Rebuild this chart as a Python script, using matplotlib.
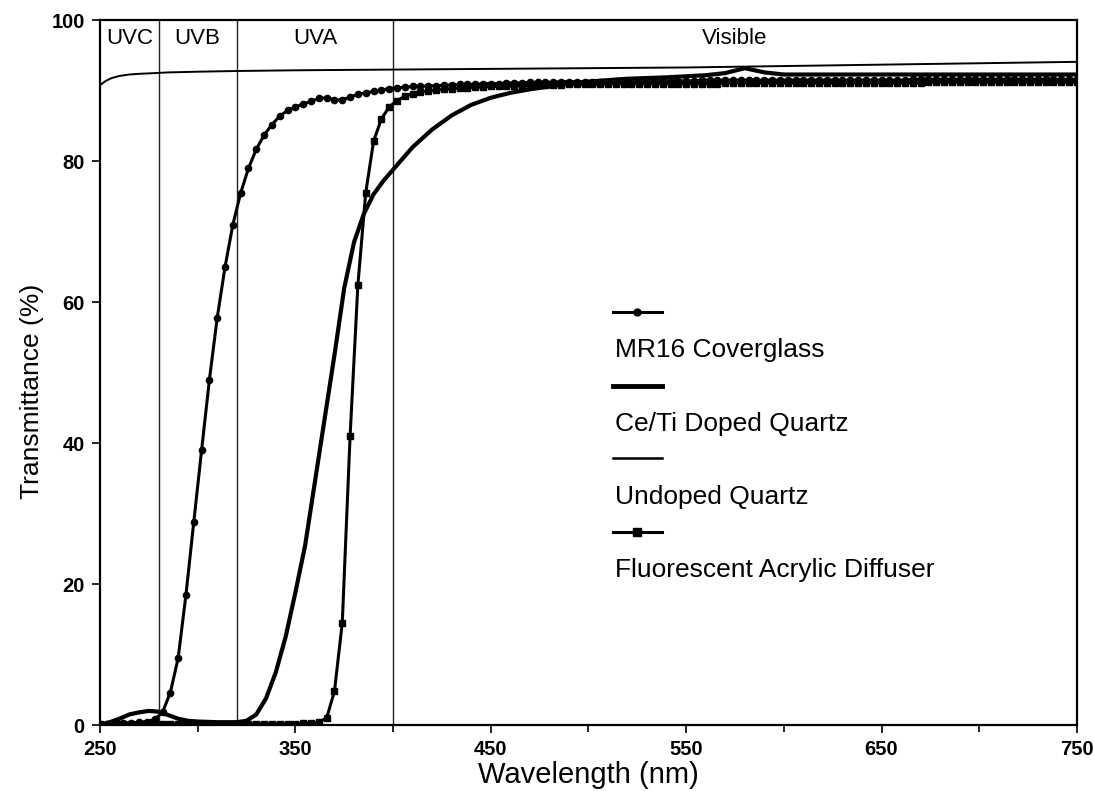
import numpy as np
import matplotlib.pyplot as plt
from matplotlib.lines import Line2D

plt.rcParams['font.family'] = ['Liberation Sans', 'DejaVu Sans']

# wavelength grid of the two marked series (nm)
wl_grid = np.arange(250, 751, 4)

mr16 = [0.2, 0.2, 0.3, 0.3, 0.3, 0.4, 0.5, 0.8,
        1.8, 4.6, 9.5, 18.5, 28.8,
        39.0, 49.0, 57.8, 65.0, 71.0,
        75.5, 79.0, 81.7, 83.7, 85.2,
        86.4, 87.2, 87.7, 88.1, 88.5,
        88.9, 89.0, 88.7, 88.7, 89.1,
        89.5, 89.7, 89.9, 90.1, 90.3,
        90.4, 90.5, 90.6, 90.6, 90.7, 90.7, 90.8, 90.8, 90.9, 90.9, 90.9, 91.0, 91.0,
        91.0, 91.1, 91.1, 91.1, 91.2, 91.2, 91.2, 91.2, 91.3, 91.3, 91.3, 91.3,
        91.3, 91.3, 91.3, 91.4, 91.4, 91.4, 91.4, 91.4, 91.4, 91.4, 91.4, 91.4, 91.4,
        91.4, 91.5, 91.5, 91.5, 91.5, 91.5, 91.5, 91.5, 91.5, 91.5, 91.5, 91.5,
        91.5, 91.5, 91.5, 91.5, 91.5, 91.5, 91.5, 91.5, 91.5, 91.5, 91.5, 91.5, 91.5,
        91.5, 91.5, 91.5, 91.6, 91.6, 91.6, 91.6, 91.6, 91.6, 91.6, 91.6, 91.6,
        91.6, 91.6, 91.6, 91.6, 91.6, 91.6, 91.6, 91.6, 91.6, 91.6, 91.6, 91.6, 91.6]

fluor = [0.1, 0.2, 0.2, 0.2, 0.2, 0.2, 0.2, 0.2,
         0.2, 0.2, 0.2, 0.2, 0.2,
         0.2, 0.2, 0.2, 0.2, 0.2,
         0.2, 0.2, 0.2, 0.2, 0.2,
         0.2, 0.2, 0.2, 0.3, 0.3,
         0.4, 1.0, 4.8, 14.5, 41.0,
         62.5, 75.5, 82.8, 86.0, 87.7,
         88.6, 89.2, 89.6, 89.8, 90.0, 90.1, 90.2, 90.3, 90.4, 90.4, 90.5, 90.5, 90.6,
         90.6, 90.6, 90.7, 90.7, 90.7, 90.8, 90.8, 90.8, 90.8, 90.9, 90.9, 90.9,
         90.9, 90.9, 91.0, 91.0, 91.0, 91.0, 91.0, 91.0, 91.0, 91.0, 91.0, 91.0, 91.0,
         91.0, 91.0, 91.0, 91.0, 91.1, 91.1, 91.1, 91.1, 91.1, 91.1, 91.1, 91.1,
         91.1, 91.1, 91.1, 91.1, 91.1, 91.1, 91.1, 91.1, 91.1, 91.1, 91.1, 91.1, 91.1,
         91.1, 91.1, 91.1, 91.1, 91.1, 91.2, 91.2, 91.2, 91.2, 91.2, 91.2, 91.2,
         91.2, 91.2, 91.2, 91.2, 91.2, 91.2, 91.2, 91.2, 91.2, 91.2, 91.2, 91.2, 91.2]

wl_ceti = [250, 255, 260, 265, 270, 275, 280, 285, 290, 295, 300, 310, 320, 325,
           330, 335, 340, 345, 350, 355, 360, 365, 370, 375, 380, 385, 390, 395,
           400, 410, 420, 430, 440, 450, 460, 470, 480, 490, 500, 520, 540, 560,
           570, 580, 590, 600, 650, 700, 750]
ceti = [0.0, 0.4, 0.9, 1.5, 1.8, 2.0, 1.9, 1.4, 0.9, 0.6, 0.5, 0.4, 0.4, 0.6,
        1.5, 3.8, 7.5, 12.5, 18.8, 25.5, 34.5, 43.5, 52.5, 62.0, 68.5, 72.5, 75.3, 77.2,
        78.8, 82.0, 84.5, 86.5, 88.0, 89.0, 89.7, 90.2, 90.6, 91.0, 91.3, 91.7, 91.9, 92.2,
        92.5, 93.2, 92.6, 92.3, 92.3, 92.3, 92.3]

wl_undoped = [250, 253, 256, 260, 265, 270, 278, 285, 300, 320, 350, 400, 450,
              500, 550, 600, 650, 700, 750]
undoped = [90.8, 91.4, 91.8, 92.1, 92.3, 92.4, 92.5, 92.6, 92.7, 92.8, 92.9, 93.0, 93.1,
           93.2, 93.3, 93.5, 93.7, 93.9, 94.1]

region_edges = [250, 280, 320, 400, 750]
region_names = ['UVC', 'UVB', 'UVA', 'Visible']

legend_labels = ['MR16 Coverglass', 'Ce/Ti Doped Quartz', 'Undoped Quartz',
                 'Fluorescent Acrylic Diffuser']

fig = plt.figure(figsize=(10.94, 7.91), dpi=100)
ax = fig.add_axes([0.0914, 0.0834, 0.893, 0.891])

# region boundaries
for e in region_edges[1:-1]:
    ax.axvline(e, color='#222222', lw=1.0, zorder=1)
for i, name in enumerate(region_names):
    mid = (region_edges[i] + region_edges[i + 1]) / 2
    ax.text(mid, 97.4, name, ha='center', va='center', fontsize=16)

ax.plot(wl_undoped, undoped, color='black', lw=1.4, zorder=3)
ax.plot(wl_ceti, ceti, color='black', lw=3.0, zorder=3)
ax.plot(wl_grid, mr16, color='black', lw=2.2, marker='o', ms=4.5, zorder=4)
ax.plot(wl_grid, fluor, color='black', lw=2.2, marker='s', ms=5, zorder=4)

# legend: handle above each label, one marker in the middle
styles = [dict(lw=2.2, marker='o', ms=5, markevery=[1]), dict(lw=3.5), dict(lw=1.8),
          dict(lw=2.2, marker='s', ms=6, markevery=[1])]
handle_y = [0.586, 0.481, 0.379, 0.274]
text_y = [0.532, 0.427, 0.323, 0.220]
for lab, st, hy, ty in zip(legend_labels, styles, handle_y, text_y):
    ax.add_line(Line2D([0.525, 0.55, 0.575], [hy, hy, hy], color='black',
                       transform=ax.transAxes, **st))
    ax.text(0.527, ty, lab, transform=ax.transAxes, fontsize=19, va='center', ha='left')

ax.set_xlim(250, 750)
ax.set_ylim(0, 100)
ax.set_xticks([250, 350, 450, 550, 650, 750])
ax.set_xticks([300, 400, 500, 600, 700], minor=True)
ax.set_yticks([0, 20, 40, 60, 80, 100])
ax.tick_params(axis='both', which='major', direction='out', length=6, width=1.2,
               labelsize=14.5, pad=5)
ax.tick_params(axis='x', which='minor', direction='out', length=5, width=1.2)
for lbl in ax.get_xticklabels() + ax.get_yticklabels():
    lbl.set_fontweight('bold')
for sp in ax.spines.values():
    sp.set_linewidth(1.6)

ax.set_xlabel('Wavelength (nm)', fontsize=21)
ax.set_ylabel('Transmittance (%)', fontsize=19)
ax.xaxis.set_label_coords(0.5, -0.071)
ax.yaxis.set_label_coords(-0.07, 0.474)
ax.xaxis.label.set_va('center')
ax.yaxis.label.set_va('center')

fig.savefig('out.png', dpi=100)
